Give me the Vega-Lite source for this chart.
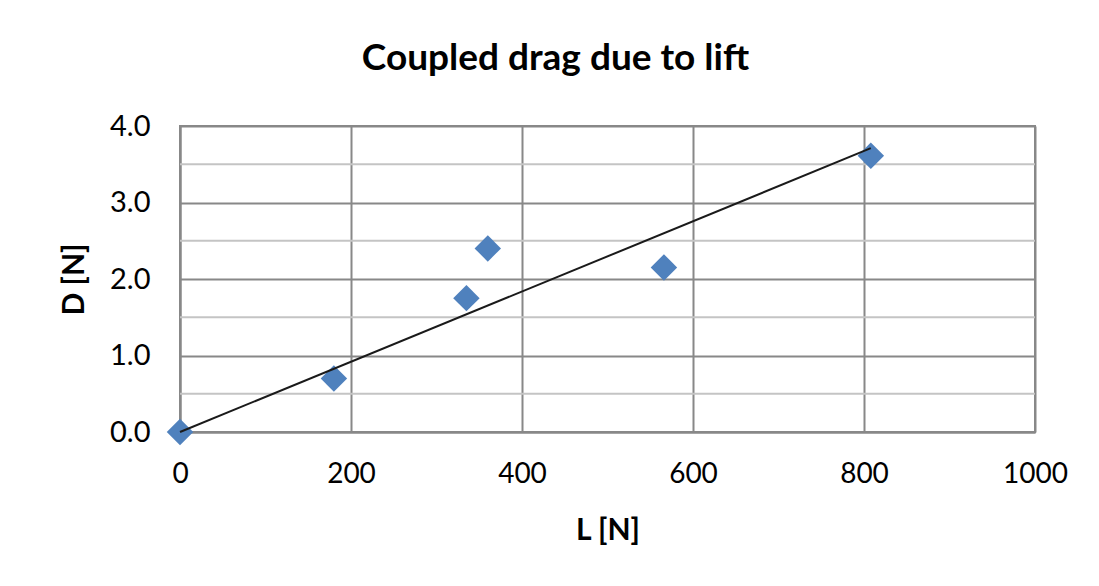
{
  "$schema": "https://vega.github.io/schema/vega-lite/v6.json",
  "width": 855,
  "height": 306,
  "autosize": "none",
  "padding": {"left": 180, "top": 126, "right": 64, "bottom": 154},
  "background": "white",
  "config": {
    "font": "Lato",
    "view": {"stroke": "#888888", "strokeWidth": 2}
  },
  "title": {
    "text": "Coupled drag due to lift",
    "font": "Lato",
    "fontSize": 37,
    "fontWeight": "bold",
    "color": "#000000",
    "anchor": "middle",
    "dx": -52,
    "offset": 34
  },
  "layer": [
    {
      "data": {"values": [{"D": 0.5}, {"D": 1.5}, {"D": 2.5}, {"D": 3.5}]},
      "mark": {"type": "rule", "color": "#c4c4c4", "strokeWidth": 2},
      "encoding": {
        "y": {"field": "D", "type": "quantitative"}
      }
    },
    {
      "data": {"values": [
        {"L": 0, "D": 0},
        {"L": 180, "D": 0.7},
        {"L": 335, "D": 1.75},
        {"L": 360, "D": 2.4},
        {"L": 566, "D": 2.15},
        {"L": 808, "D": 3.61}
      ]},
      "mark": {"type": "point", "shape": "diamond", "filled": true, "size": 700, "color": "#4F81BD", "opacity": 1},
      "encoding": {
        "x": {
          "field": "L", "type": "quantitative",
          "scale": {"domain": [0, 1000], "nice": false},
          "axis": {
            "title": "L [N]",
            "values": [0, 200, 400, 600, 800, 1000],
            "format": "d",
            "labelFlush": false,
            "titleFont": "Lato", "titleFontSize": 30, "titleFontWeight": "bold", "titleColor": "#000",
            "titlePadding": 27,
            "labelFont": "Lato", "labelFontSize": 28, "labelColor": "#000", "labelPadding": 28,
            "ticks": false, "domain": true, "domainColor": "#888888", "domainWidth": 2,
            "grid": true, "gridColor": "#888888", "gridWidth": 2
          }
        },
        "y": {
          "field": "D", "type": "quantitative",
          "scale": {"domain": [0, 4], "nice": false},
          "axis": {
            "title": "D [N]",
            "values": [0, 1, 2, 3, 4],
            "format": ".1f",
            "labelFlush": false,
            "titleFont": "Lato", "titleFontSize": 30, "titleFontWeight": "bold", "titleColor": "#000",
            "titlePadding": 20,
            "labelFont": "Lato", "labelFontSize": 29, "labelColor": "#000", "labelPadding": 30,
            "ticks": false, "domain": true, "domainColor": "#888888", "domainWidth": 2,
            "grid": true, "gridColor": "#888888", "gridWidth": 2
          }
        }
      }
    },
    {
      "data": {"values": [
        {"L": 0, "D": 0},
        {"L": 808, "D": 3.71}
      ]},
      "mark": {"type": "line", "color": "#1a1a1a", "strokeWidth": 2},
      "encoding": {
        "x": {"field": "L", "type": "quantitative"},
        "y": {"field": "D", "type": "quantitative"}
      }
    }
  ]
}
